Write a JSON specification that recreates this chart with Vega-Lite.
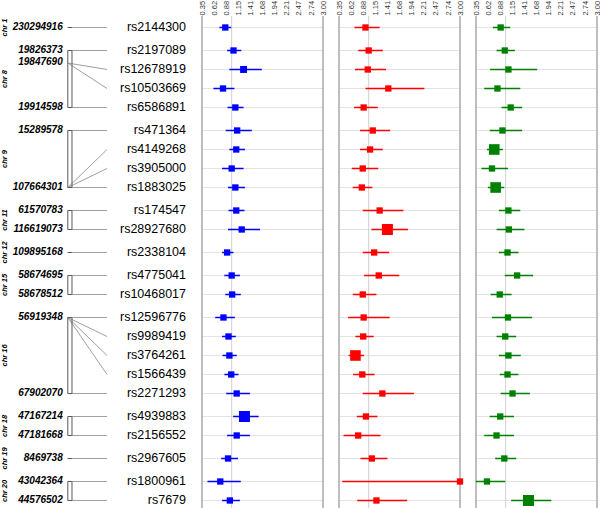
{
"$schema": "https://vega.github.io/schema/vega-lite/v6.json",
"padding": {"left": 0, "top": 0, "right": 0, "bottom": 0},
"config": {"font": "Liberation Sans", "view": {"stroke": null}, "axis": {"labelOverlap": false, "labelFlush": false}},
"datasets": {"rows": [
{"kind":"snp","chr":1,"snp":"rs2144300","pos":230294916,"from":230294916,"lab":true,"e1":0.86,"l1":0.73,"h1":0.99,"w1":1,"e2":0.93,"l2":0.69,"h2":1.24,"w2":1,"e3":0.89,"l3":0.72,"h3":1.10,"w3":1},
{"kind":"snp","chr":8,"snp":"rs2197089","pos":19826373,"from":19826373,"lab":true,"e1":1.04,"l1":0.90,"h1":1.21,"w1":1,"e2":1.00,"l2":0.77,"h2":1.31,"w2":1,"e3":0.98,"l3":0.80,"h3":1.20,"w3":1},
{"kind":"snp","chr":8,"snp":"rs12678919","pos":19844222,"from":19844222,"mid":true,"e1":1.26,"l1":0.95,"h1":1.66,"w1":1.2,"e2":0.98,"l2":0.70,"h2":1.38,"w2":1,"e3":1.06,"l3":0.66,"h3":1.69,"w3":1},
{"kind":"snp","chr":8,"snp":"rs10503669","pos":19847690,"from":19844222,"mid":true,"lab":true,"e1":0.81,"l1":0.60,"h1":1.06,"w1":1,"e2":1.43,"l2":0.93,"h2":2.22,"w2":1,"e3":0.82,"l3":0.53,"h3":1.32,"w3":1},
{"kind":"snp","chr":8,"snp":"rs6586891","pos":19914598,"from":19914598,"lab":true,"e1":1.08,"l1":0.91,"h1":1.26,"w1":1,"e2":0.89,"l2":0.68,"h2":1.20,"w2":1,"e3":1.11,"l3":0.91,"h3":1.36,"w3":1},
{"kind":"snp","chr":9,"snp":"rs471364","pos":15289578,"from":15289578,"lab":true,"e1":1.12,"l1":0.87,"h1":1.44,"w1":1,"e2":1.09,"l2":0.81,"h2":1.47,"w2":1,"e3":0.93,"l3":0.65,"h3":1.36,"w3":1},
{"kind":"snp","chr":9,"snp":"rs4149268","pos":107586000,"from":107664301,"e1":1.10,"l1":0.95,"h1":1.29,"w1":1,"e2":1.03,"l2":0.81,"h2":1.31,"w2":1,"e3":0.75,"l3":0.59,"h3":0.94,"w3":2.8},
{"kind":"snp","chr":9,"snp":"rs3905000","pos":107616000,"from":107664301,"e1":1.00,"l1":0.79,"h1":1.26,"w1":1,"e2":0.87,"l2":0.63,"h2":1.21,"w2":1,"e3":0.70,"l3":0.47,"h3":1.05,"w3":1},
{"kind":"snp","chr":9,"snp":"rs1883025","pos":107664301,"from":107664301,"lab":true,"e1":1.08,"l1":0.92,"h1":1.29,"w1":1,"e2":0.85,"l2":0.65,"h2":1.08,"w2":1,"e3":0.78,"l3":0.61,"h3":0.97,"w3":2.8},
{"kind":"snp","chr":11,"snp":"rs174547","pos":61570783,"from":61570783,"lab":true,"e1":1.10,"l1":0.93,"h1":1.28,"w1":1,"e2":1.24,"l2":0.87,"h2":1.76,"w2":1,"e3":1.06,"l3":0.85,"h3":1.32,"w3":1},
{"kind":"snp","chr":11,"snp":"rs28927680","pos":116619073,"from":116619073,"lab":true,"e1":1.22,"l1":0.92,"h1":1.62,"w1":1,"e2":1.41,"l2":1.06,"h2":1.86,"w2":3,"e3":1.07,"l3":0.80,"h3":1.41,"w3":1},
{"kind":"snp","chr":12,"snp":"rs2338104","pos":109895168,"from":109895168,"lab":true,"e1":0.90,"l1":0.79,"h1":1.04,"w1":1,"e2":1.12,"l2":0.87,"h2":1.45,"w2":1,"e3":1.04,"l3":0.85,"h3":1.28,"w3":1},
{"kind":"snp","chr":15,"snp":"rs4775041","pos":58674695,"from":58674695,"lab":true,"e1":1.00,"l1":0.84,"h1":1.18,"w1":1,"e2":1.22,"l2":0.90,"h2":1.67,"w2":1,"e3":1.25,"l3":0.98,"h3":1.60,"w3":1},
{"kind":"snp","chr":15,"snp":"rs10468017","pos":58678512,"from":58678512,"lab":true,"e1":1.01,"l1":0.86,"h1":1.20,"w1":1,"e2":0.87,"l2":0.65,"h2":1.17,"w2":1,"e3":0.87,"l3":0.67,"h3":1.13,"w3":1},
{"kind":"snp","chr":16,"snp":"rs12596776","pos":56919348,"from":56919348,"lab":true,"e1":0.82,"l1":0.64,"h1":1.07,"w1":1,"e2":0.89,"l2":0.55,"h2":1.46,"w2":1,"e3":1.05,"l3":0.70,"h3":1.58,"w3":1},
{"kind":"snp","chr":16,"snp":"rs9989419","pos":56985139,"from":56919348,"e1":0.93,"l1":0.79,"h1":1.09,"w1":1,"e2":0.88,"l2":0.71,"h2":1.11,"w2":1,"e3":0.99,"l3":0.80,"h3":1.23,"w3":1},
{"kind":"snp","chr":16,"snp":"rs3764261","pos":56993324,"from":56919348,"e1":0.95,"l1":0.80,"h1":1.11,"w1":1,"e2":0.71,"l2":0.56,"h2":0.90,"w2":2.8,"e3":1.06,"l3":0.85,"h3":1.33,"w3":1},
{"kind":"snp","chr":16,"snp":"rs1566439","pos":56995000,"from":56919348,"e1":0.99,"l1":0.84,"h1":1.15,"w1":1,"e2":0.86,"l2":0.66,"h2":1.13,"w2":1,"e3":1.04,"l3":0.87,"h3":1.28,"w3":1},
{"kind":"snp","chr":16,"snp":"rs2271293","pos":67902070,"from":67902070,"lab":true,"e1":1.11,"l1":0.88,"h1":1.40,"w1":1,"e2":1.30,"l2":0.87,"h2":1.99,"w2":1,"e3":1.15,"l3":0.89,"h3":1.53,"w3":1},
{"kind":"snp","chr":18,"snp":"rs4939883","pos":47167214,"from":47167214,"lab":true,"e1":1.28,"l1":1.03,"h1":1.59,"w1":3,"e2":0.94,"l2":0.74,"h2":1.19,"w2":1,"e3":0.88,"l3":0.65,"h3":1.18,"w3":1},
{"kind":"snp","chr":18,"snp":"rs2156552","pos":47181668,"from":47181668,"lab":true,"e1":1.11,"l1":0.90,"h1":1.40,"w1":1,"e2":0.77,"l2":0.45,"h2":1.26,"w2":1,"e3":0.80,"l3":0.53,"h3":1.18,"w3":1},
{"kind":"snp","chr":19,"snp":"rs2967605","pos":8469738,"from":8469738,"lab":true,"e1":0.92,"l1":0.77,"h1":1.14,"w1":1,"e2":1.07,"l2":0.82,"h2":1.41,"w2":1,"e3":0.97,"l3":0.77,"h3":1.23,"w3":1},
{"kind":"snp","chr":20,"snp":"rs1800961","pos":43042364,"from":43042364,"lab":true,"e1":0.75,"l1":0.47,"h1":1.20,"w1":1,"e2":3.00,"l2":0.42,"h2":3.00,"w2":1,"e3":0.59,"l3":0.35,"h3":0.99,"w3":1},
{"kind":"snp","chr":20,"snp":"rs7679","pos":44576502,"from":44576502,"lab":true,"e1":0.96,"l1":0.79,"h1":1.18,"w1":1,"e2":1.17,"l2":0.75,"h2":1.84,"w2":1,"e3":1.50,"l3":1.12,"h3":2.00,"w3":3},
{"kind":"br","chr":1,"pos":230294916,"bot":230294916},
{"kind":"br","chr":8,"pos":19826373,"bot":19914598},
{"kind":"br","chr":9,"pos":15289578,"bot":107664301},
{"kind":"br","chr":11,"pos":61570783,"bot":116619073},
{"kind":"br","chr":12,"pos":109895168,"bot":109895168},
{"kind":"br","chr":15,"pos":58674695,"bot":58678512},
{"kind":"br","chr":16,"pos":56919348,"bot":67902070},
{"kind":"br","chr":18,"pos":47167214,"bot":47181668},
{"kind":"br","chr":19,"pos":8469738,"bot":8469738},
{"kind":"br","chr":20,"pos":43042364,"bot":44576502}
]},
"spacing": 7,
"hconcat": [
{
 "data": {"name": "rows"},
 "facet": {"row": {"field": "chr", "type": "ordinal", "header": {"title": null, "labelExpr": "'chr ' + datum.value", "labelAngle": -90, "labelOrient": "left", "labelFontSize": 7.5, "labelFontStyle": "italic", "labelFontWeight": "bold", "labelPadding": 0, "labelColor": "#000000"}}},
 "spacing": 0,
 "bounds": "flush",
 "resolve": {"scale": {"y": "independent"}},
 "spec": {
  "width": 178, "height": {"step": 19},
  "layer": [
   {"transform": [{"filter": "datum.kind == 'snp' && !datum.mid"}], "mark": {"type": "rule", "color": "#a0a0a0", "strokeWidth": 1},
    "encoding": {"y": {"field": "pos", "type": "ordinal", "axis": null, "scale": {"type": "band", "paddingInner": 0, "paddingOuter": 0.105}}, "y2": {"field": "from"},
     "x": {"datum": 53.4, "type": "quantitative", "scale": {"domain": [0, 100], "nice": false, "zero": false}, "axis": {"orient": "top", "values": [50], "tickCount": 1, "labelExpr": "'0.00'", "labelColor": "#ffffff", "labelAngle": -90, "labelFontSize": 7.5, "labelPadding": 1, "ticks": false, "domain": false, "grid": false, "title": null, "labelFlush": false, "labelOverlap": false}},
     "x2": {"datum": 31.35}}},
   {"transform": [{"filter": "datum.mid == true"}], "mark": {"type": "rule", "color": "#a0a0a0", "strokeWidth": 1},
    "encoding": {"y": {"field": "from", "type": "ordinal", "bandPosition": 0.16, "axis": null, "scale": {"type": "band", "paddingInner": 0, "paddingOuter": 0.105}}, "y2": {"field": "pos"},
     "x": {"datum": 31.35, "type": "quantitative"}, "x2": {"datum": 53.4}}},
   {"transform": [{"filter": "datum.kind == 'br'"}], "mark": {"type": "rule", "color": "#5a5a5a", "strokeWidth": 1},
    "encoding": {"y": {"field": "pos", "type": "ordinal", "axis": null, "scale": {"type": "band", "paddingInner": 0, "paddingOuter": 0.105}}, "y2": {"field": "bot"}, "x": {"datum": 31.35, "type": "quantitative"}}},
   {"transform": [{"filter": "datum.kind == 'br'"}], "mark": {"type": "rule", "color": "#5a5a5a", "strokeWidth": 1},
    "encoding": {"y": {"field": "pos", "type": "ordinal", "axis": null, "scale": {"type": "band", "paddingInner": 0, "paddingOuter": 0.105}}, "y2": {"field": "bot"}, "x": {"datum": 33.7, "type": "quantitative"}}},
   {"transform": [{"filter": "datum.kind == 'br'"}], "mark": {"type": "rule", "color": "#5a5a5a", "strokeWidth": 1},
    "encoding": {"y": {"field": "pos", "type": "ordinal", "axis": null, "scale": {"type": "band", "paddingInner": 0, "paddingOuter": 0.105}}, "x": {"datum": 31.35, "type": "quantitative"}, "x2": {"datum": 33.7}}},
   {"transform": [{"filter": "datum.kind == 'br'"}], "mark": {"type": "rule", "color": "#5a5a5a", "strokeWidth": 1},
    "encoding": {"y": {"field": "bot", "type": "ordinal", "axis": null, "scale": {"type": "band", "paddingInner": 0, "paddingOuter": 0.105}}, "x": {"datum": 31.35, "type": "quantitative"}, "x2": {"datum": 33.7}}},
   {"transform": [{"filter": "datum.kind == 'snp' && datum.lab && !datum.mid"}], "mark": {"type": "text", "align": "right", "baseline": "middle", "fontSize": 10, "fontStyle": "italic", "fontWeight": "bold", "color": "#000000"},
    "encoding": {"y": {"field": "pos", "type": "ordinal", "axis": null, "scale": {"type": "band", "paddingInner": 0, "paddingOuter": 0.105}}, "x": {"datum": 28.5, "type": "quantitative"}, "text": {"field": "pos", "type": "quantitative", "format": "d"}}},
   {"transform": [{"filter": "datum.lab == true && datum.mid == true"}], "mark": {"type": "text", "align": "right", "baseline": "middle", "fontSize": 10, "fontStyle": "italic", "fontWeight": "bold", "color": "#000000"},
    "encoding": {"y": {"field": "from", "type": "ordinal", "bandPosition": 0.08, "axis": null, "scale": {"type": "band", "paddingInner": 0, "paddingOuter": 0.105}}, "x": {"datum": 28.5, "type": "quantitative"}, "text": {"field": "pos", "type": "quantitative", "format": "d"}}},
   {"transform": [{"filter": "datum.kind == 'snp'"}], "mark": {"type": "text", "align": "right", "baseline": "middle", "fontSize": 12.5, "color": "#000000"},
    "encoding": {"y": {"field": "pos", "type": "ordinal", "axis": null, "scale": {"type": "band", "paddingInner": 0, "paddingOuter": 0.105}}, "x": {"datum": 97.75, "type": "quantitative"}, "text": {"field": "snp", "type": "nominal"}}}
  ]
 }
},
{
 "data": {"name": "rows"},
 "facet": {"row": {"field": "chr", "type": "ordinal", "header": null}},
 "spacing": 0,
 "bounds": "flush",
 "resolve": {"scale": {"y": "independent"}},
 "spec": {
  "width": 121, "height": {"step": 19},
  "layer": [
   {"transform": [{"filter": "datum.kind == 'snp'"}], "mark": {"type": "rule", "color": "#e2e2e2"}, "encoding": {"y": {"field": "pos", "type": "ordinal", "axis": null, "scale": {"type": "band", "paddingInner": 0, "paddingOuter": 0.105}}}},
   {"transform": [{"filter": "datum.kind == 'br'"}], "mark": {"type": "rule", "color": "#d0d0d0"}, "encoding": {"x": {"datum": 1, "type": "quantitative", "scale": {"domain": [0.35, 3.0], "nice": false, "zero": false, "clamp": true}, "axis": {"orient": "top", "values": [0.35, 0.62, 0.88, 1.15, 1.41, 1.68, 1.94, 2.21, 2.47, 2.74, 3.0], "tickCount": 20, "format": ".2f", "labelAngle": -90, "labelFontSize": 7.5, "labelColor": "#333333", "labelPadding": 1, "ticks": false, "domain": false, "grid": false, "title": null, "labelFlush": false, "labelOverlap": false}}}},
   {"transform": [{"filter": "datum.kind == 'br'"}], "mark": {"type": "rule", "color": "#a8a8a8", "strokeWidth": 1.5}, "encoding": {"x": {"datum": 0.35, "type": "quantitative"}}},
   {"transform": [{"filter": "datum.kind == 'br'"}], "mark": {"type": "rule", "color": "#a8a8a8", "strokeWidth": 1.5}, "encoding": {"x": {"datum": 3.0, "type": "quantitative"}}},
   {"transform": [{"filter": "datum.kind == 'snp'"}], "mark": {"type": "rule", "color": "#0000ff", "strokeWidth": 1.5}, "encoding": {"y": {"field": "pos", "type": "ordinal", "axis": null, "scale": {"type": "band", "paddingInner": 0, "paddingOuter": 0.105}}, "x": {"field": "l1", "type": "quantitative"}, "x2": {"field": "h1"}}},
   {"transform": [{"filter": "datum.kind == 'snp'"}], "mark": {"type": "square", "color": "#0000ff", "opacity": 1}, "encoding": {"y": {"field": "pos", "type": "ordinal", "axis": null, "scale": {"type": "band", "paddingInner": 0, "paddingOuter": 0.105}}, "x": {"field": "e1", "type": "quantitative"}, "size": {"field": "w1", "type": "quantitative", "scale": {"domain": [1, 3], "range": [40, 121]}, "legend": null}}}
  ]
 }
},
{
 "data": {"name": "rows"},
 "facet": {"row": {"field": "chr", "type": "ordinal", "header": null}},
 "spacing": 0,
 "bounds": "flush",
 "resolve": {"scale": {"y": "independent"}},
 "spec": {
  "width": 121, "height": {"step": 19},
  "layer": [
   {"transform": [{"filter": "datum.kind == 'snp'"}], "mark": {"type": "rule", "color": "#e2e2e2"}, "encoding": {"y": {"field": "pos", "type": "ordinal", "axis": null, "scale": {"type": "band", "paddingInner": 0, "paddingOuter": 0.105}}}},
   {"transform": [{"filter": "datum.kind == 'br'"}], "mark": {"type": "rule", "color": "#d0d0d0"}, "encoding": {"x": {"datum": 1, "type": "quantitative", "scale": {"domain": [0.35, 3.0], "nice": false, "zero": false, "clamp": true}, "axis": {"orient": "top", "values": [0.35, 0.62, 0.88, 1.15, 1.41, 1.68, 1.94, 2.21, 2.47, 2.74, 3.0], "tickCount": 20, "format": ".2f", "labelAngle": -90, "labelFontSize": 7.5, "labelColor": "#333333", "labelPadding": 1, "ticks": false, "domain": false, "grid": false, "title": null, "labelFlush": false, "labelOverlap": false}}}},
   {"transform": [{"filter": "datum.kind == 'br'"}], "mark": {"type": "rule", "color": "#a8a8a8", "strokeWidth": 1.5}, "encoding": {"x": {"datum": 0.35, "type": "quantitative"}}},
   {"transform": [{"filter": "datum.kind == 'br'"}], "mark": {"type": "rule", "color": "#a8a8a8", "strokeWidth": 1.5}, "encoding": {"x": {"datum": 3.0, "type": "quantitative"}}},
   {"transform": [{"filter": "datum.kind == 'snp'"}], "mark": {"type": "rule", "color": "#ff0000", "strokeWidth": 1.5}, "encoding": {"y": {"field": "pos", "type": "ordinal", "axis": null, "scale": {"type": "band", "paddingInner": 0, "paddingOuter": 0.105}}, "x": {"field": "l2", "type": "quantitative"}, "x2": {"field": "h2"}}},
   {"transform": [{"filter": "datum.kind == 'snp'"}], "mark": {"type": "square", "color": "#ff0000", "opacity": 1}, "encoding": {"y": {"field": "pos", "type": "ordinal", "axis": null, "scale": {"type": "band", "paddingInner": 0, "paddingOuter": 0.105}}, "x": {"field": "e2", "type": "quantitative"}, "size": {"field": "w2", "type": "quantitative", "scale": {"domain": [1, 3], "range": [40, 121]}, "legend": null}}}
  ]
 }
},
{
 "data": {"name": "rows"},
 "facet": {"row": {"field": "chr", "type": "ordinal", "header": null}},
 "spacing": 0,
 "bounds": "flush",
 "resolve": {"scale": {"y": "independent"}},
 "spec": {
  "width": 121, "height": {"step": 19},
  "layer": [
   {"transform": [{"filter": "datum.kind == 'snp'"}], "mark": {"type": "rule", "color": "#e2e2e2"}, "encoding": {"y": {"field": "pos", "type": "ordinal", "axis": null, "scale": {"type": "band", "paddingInner": 0, "paddingOuter": 0.105}}}},
   {"transform": [{"filter": "datum.kind == 'br'"}], "mark": {"type": "rule", "color": "#d0d0d0"}, "encoding": {"x": {"datum": 1, "type": "quantitative", "scale": {"domain": [0.35, 3.0], "nice": false, "zero": false, "clamp": true}, "axis": {"orient": "top", "values": [0.35, 0.62, 0.88, 1.15, 1.41, 1.68, 1.94, 2.21, 2.47, 2.74, 3.0], "tickCount": 20, "format": ".2f", "labelAngle": -90, "labelFontSize": 7.5, "labelColor": "#333333", "labelPadding": 1, "ticks": false, "domain": false, "grid": false, "title": null, "labelFlush": false, "labelOverlap": false}}}},
   {"transform": [{"filter": "datum.kind == 'br'"}], "mark": {"type": "rule", "color": "#a8a8a8", "strokeWidth": 1.5}, "encoding": {"x": {"datum": 0.35, "type": "quantitative"}}},
   {"transform": [{"filter": "datum.kind == 'br'"}], "mark": {"type": "rule", "color": "#a8a8a8", "strokeWidth": 1.5}, "encoding": {"x": {"datum": 3.0, "type": "quantitative"}}},
   {"transform": [{"filter": "datum.kind == 'snp'"}], "mark": {"type": "rule", "color": "#008000", "strokeWidth": 1.5}, "encoding": {"y": {"field": "pos", "type": "ordinal", "axis": null, "scale": {"type": "band", "paddingInner": 0, "paddingOuter": 0.105}}, "x": {"field": "l3", "type": "quantitative"}, "x2": {"field": "h3"}}},
   {"transform": [{"filter": "datum.kind == 'snp'"}], "mark": {"type": "square", "color": "#008000", "opacity": 1}, "encoding": {"y": {"field": "pos", "type": "ordinal", "axis": null, "scale": {"type": "band", "paddingInner": 0, "paddingOuter": 0.105}}, "x": {"field": "e3", "type": "quantitative"}, "size": {"field": "w3", "type": "quantitative", "scale": {"domain": [1, 3], "range": [40, 121]}, "legend": null}}}
  ]
 }
}
]
}
